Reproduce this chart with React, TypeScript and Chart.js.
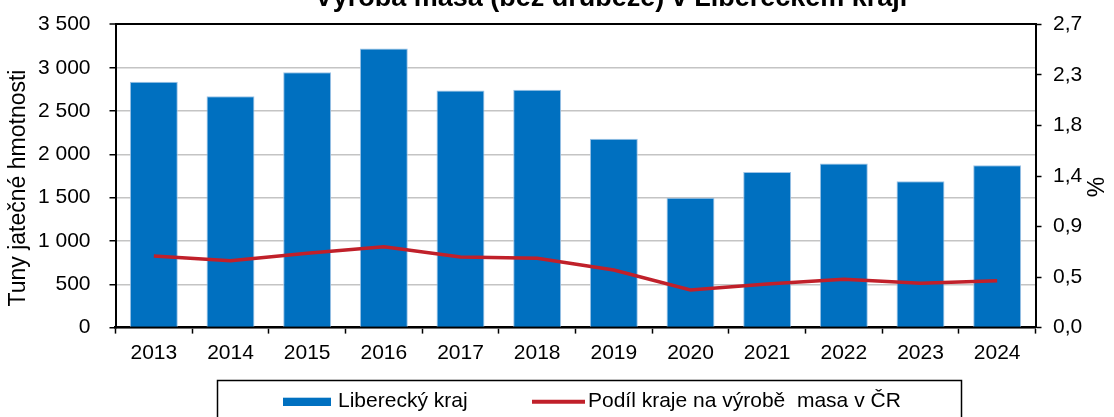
import React, { useEffect, useRef } from 'react';
import { Chart, registerables } from 'chart.js';

Chart.register(...registerables);

const chartTitle = 'Výroba masa (bez drůbeže) v Libereckém kraji';
const leftAxisTitle = 'Tuny jatečné hmotnosti';
const rightAxisTitle = '%';
const seriesNames = ['Liberecký kraj', 'Podíl kraje na výrobě  masa v ČR'];

const years = ['2013', '2014', '2015', '2016', '2017', '2018', '2019', '2020', '2021', '2022', '2023', '2024'];
const production = [2839, 2672, 2947, 3221, 2738, 2746, 2179, 1500, 1797, 1893, 1689, 1874];
const sharePct = [0.638, 0.596, 0.662, 0.72, 0.629, 0.617, 0.513, 0.335, 0.388, 0.43, 0.394, 0.418];

const leftTicks = [0, 500, 1000, 1500, 2000, 2500, 3000, 3500];
const rightTicks = [0, 0.45, 0.9, 1.35, 1.8, 2.25, 2.7];
const rightTickLabels = ['0,0', '0,5', '0,9', '1,4', '1,8', '2,3', '2,7'];

const FONT = '"Liberation Sans", Arial, Helvetica, sans-serif';
const OFF = 20; // canvas shifted up so the title is partly cut off
const CANVAS_W = 1114;
const CANVAS_H = 417 + OFF;

const fmtThousands = (v: number) => String(v).replace(/\B(?=(\d{3})+(?!\d))/g, ' ');

const decorPlugin = {
  id: 'decor',
  afterDraw(chart: any) {
    const ctx = chart.ctx as CanvasRenderingContext2D;
    ctx.save();
    ctx.fillStyle = '#000';
    // title
    ctx.font = `bold 27px ${FONT}`;
    ctx.textAlign = 'center';
    ctx.textBaseline = 'alphabetic';
    ctx.fillText(chartTitle, 611, 6 + OFF);

    // axis titles
    ctx.font = `23px ${FONT}`;
    ctx.textBaseline = 'middle';
    ctx.save();
    ctx.translate(19, 188 + OFF);
    ctx.rotate(-Math.PI / 2);
    ctx.fillText(leftAxisTitle, 0, 0);
    ctx.restore();
    ctx.save();
    ctx.translate(1098, 187 + OFF);
    ctx.rotate(-Math.PI / 2);
    ctx.fillText(rightAxisTitle, 0, 0);
    ctx.restore();

    // legend
    const ds = chart.data.datasets;
    ctx.strokeStyle = '#000';
    ctx.lineWidth = 1.5;
    ctx.strokeRect(217.5, 380.5 + OFF, 744, 80);
    ctx.fillStyle = ds[0].backgroundColor;
    ctx.fillRect(283, 397.7 + OFF, 48, 8.3);
    ctx.strokeStyle = ds[1].borderColor;
    ctx.lineWidth = 4;
    ctx.beginPath();
    ctx.moveTo(532, 401.7 + OFF);
    ctx.lineTo(585, 401.7 + OFF);
    ctx.stroke();
    ctx.fillStyle = '#000';
    ctx.textAlign = 'left';
    ctx.textBaseline = 'alphabetic';
    ctx.font = `21px ${FONT}`;
    ctx.fillText(ds[0].label, 338, 407 + OFF);
    ctx.fillText(ds[1].label, 588, 407 + OFF);
    ctx.restore();
  },
};

export default function App() {
  const ref = useRef<HTMLCanvasElement | null>(null);

  useEffect(() => {
    if (!ref.current) return;
    const chart = new Chart(ref.current, {
      type: 'bar',
      data: {
        labels: years,
        datasets: [
          {
            type: 'bar',
            label: seriesNames[0],
            data: production,
            backgroundColor: '#0070C0',
            borderColor: '#9DC3E6',
            borderWidth: 1,
            barPercentage: 0.625,
            categoryPercentage: 1.0,
            yAxisID: 'y',
            order: 1,
          },
          {
            type: 'line',
            label: seriesNames[1],
            data: sharePct,
            borderColor: '#C0202A',
            backgroundColor: '#C0202A',
            borderWidth: 3.5,
            pointRadius: 0,
            tension: 0,
            yAxisID: 'y1',
            order: 0,
          },
        ],
      },
      options: {
        animation: false,
        responsive: true,
        maintainAspectRatio: false,
        layout: { padding: { top: 24.4 + OFF, left: 0, right: 0, bottom: 0 } },
        plugins: {
          legend: { display: false },
          tooltip: { enabled: false },
          title: { display: false },
        },
        scales: {
          x: {
            grid: {
              offset: true,
              drawOnChartArea: false,
              drawTicks: true,
              tickLength: 6,
              tickColor: '#000',
              tickWidth: 1.5,
            },
            border: { color: '#000', width: 2.5 },
            ticks: {
              font: { size: 21, family: FONT },
              color: '#000',
              padding: 7,
              maxRotation: 0,
              autoSkip: false,
            },
            afterFit: (s: any) => {
              s.height = CANVAS_H - (327.6 + OFF);
            },
          },
          y: {
            position: 'left',
            min: 0,
            max: 3500,
            afterBuildTicks: (s: any) => {
              s.ticks = leftTicks.map((v) => ({ value: v }));
            },
            ticks: {
              font: { size: 21, family: FONT },
              color: '#000',
              padding: 19,
              callback: (v: any) => fmtThousands(Number(v)),
            },
            grid: {
              color: (c: any) => (c.tick && c.tick.value === 3500 ? '#000' : '#C4C4C4'),
              lineWidth: (c: any) => (c.tick && c.tick.value === 3500 ? 2 : 1.5),
              tickLength: 6,
              tickColor: '#000',
              tickWidth: 1.5,
            },
            border: { color: '#000', width: 2 },
            afterFit: (s: any) => {
              s.width = 115.5;
            },
          },
          y1: {
            position: 'right',
            min: 0,
            max: 2.7,
            afterBuildTicks: (s: any) => {
              s.ticks = rightTicks.map((v) => ({ value: v }));
            },
            ticks: {
              font: { size: 21, family: FONT },
              color: '#000',
              padding: 11.5,
              callback: (_v: any, i: number) => rightTickLabels[i],
            },
            grid: {
              drawOnChartArea: false,
              tickLength: 6,
              tickColor: '#000',
              tickWidth: 1.5,
            },
            border: { color: '#000', width: 2 },
            afterFit: (s: any) => {
              s.width = CANVAS_W - 1035.5;
            },
          },
        },
      },
      plugins: [decorPlugin],
    } as any);
    return () => chart.destroy();
  }, []);

  return (
    <div style={{ position: 'absolute', left: 0, top: -OFF, width: CANVAS_W, height: CANVAS_H }}>
      <canvas ref={ref} />
    </div>
  );
}
